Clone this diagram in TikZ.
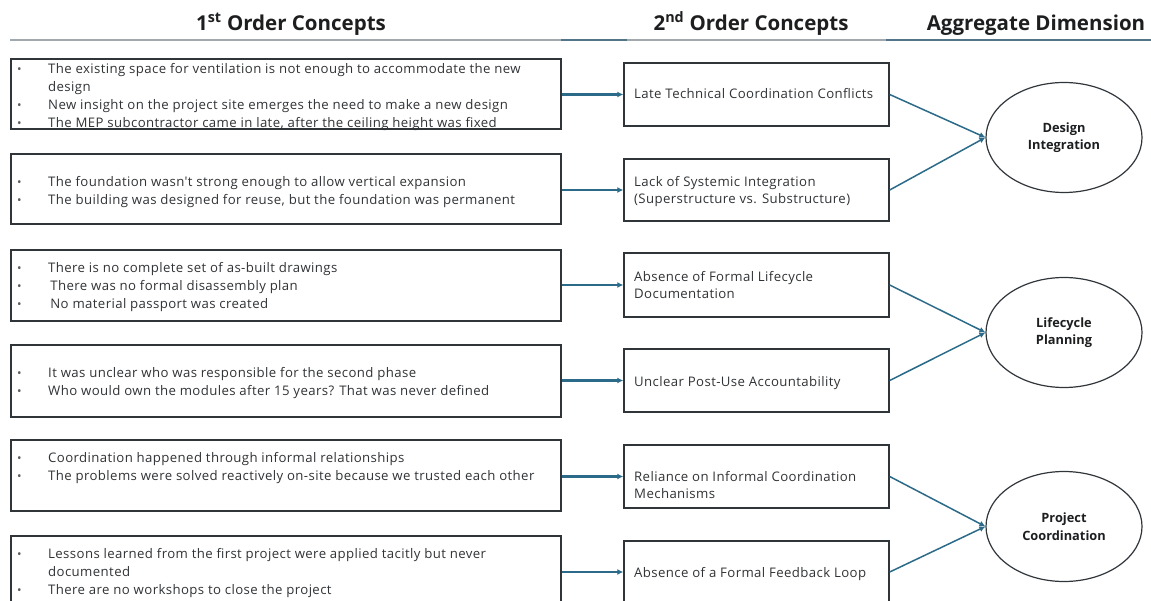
\documentclass[tikz,border=0pt]{standalone}
\usepackage{fontspec}
\setmainfont{Open Sans}
\newfontfamily\bodyfont[LetterSpace=3]{Open Sans}
\usetikzlibrary{arrows.meta,shapes.geometric}

\definecolor{ink}{HTML}{303336}
\definecolor{headink}{HTML}{1C1E20}
\definecolor{edgeink}{HTML}{30353A}
\definecolor{flow}{HTML}{2B6A88}
\definecolor{rulegrey}{HTML}{A2A9AE}
\definecolor{ruleblue}{HTML}{52758A}

% bullet list rows for the first-order boxes
\newcommand{\itemdot}{\textcolor{ink!80}{\fontsize{12}{12}\selectfont\textbullet}}
\newcommand{\itemrow}[1]{\itemdot & #1\\}
\newenvironment{quotelist}{\bodyfont\fontsize{13.2}{18}\selectfont\begin{tabular}[t]{@{}p{31pt}@{}p{520pt}@{}}}{\end{tabular}}

\tikzset{
  lbox/.style={draw=edgeink, line width=1.4pt, minimum width=550pt, inner sep=0pt},
  mbox/.style={draw=edgeink, line width=1.4pt, minimum width=265pt, inner sep=0pt},
  listtext/.style={anchor=base west, inner sep=0pt, text=ink},
  conctext/.style={anchor=base west, inner sep=0pt, text=ink, align=left,
    font=\bodyfont\fontsize{13.2}{17}\selectfont},
  aggr/.style={ellipse, draw=edgeink, line width=1.2pt, minimum width=156pt,
    minimum height=110pt, inner sep=0pt, align=center, text=headink,
    font=\bfseries\fontsize{12.8}{17.5}\selectfont},
  header/.style={anchor=base, inner sep=0pt, text=headink,
    font=\bfseries\fontsize{20.5}{24}\selectfont},
  feed/.style={draw=flow, line width=2.2pt, -{Latex[length=6pt,width=6pt]}},
  merge/.style={draw=flow, line width=1.5pt, -{Latex[length=6pt,width=6pt]}},
}

\begin{document}
\begin{tikzpicture}[x=1pt, y=-1pt]
\useasboundingbox (0,0) rectangle (1151,601);
\clip (0,0) rectangle (1151,601);

% column headers and the rule beneath them
\node[header] (h1) at (291,30.5) {1\textsuperscript{st} Order Concepts};
\node[header] (h2) at (751,30.5) {2\textsuperscript{nd} Order Concepts};
\node[header] (h3) at (1036,30.5) {Aggregate Dimension};
\draw[rulegrey, line width=2.4pt] (10,40) -- (561,40);
\draw[ruleblue, line width=2.4pt] (561,40) -- (627,40);
\draw[rulegrey, line width=2.4pt] (627,40) -- (886,40);
\draw[ruleblue, line width=2.4pt] (886,40) -- (1151,40);

% first-order concept boxes
\node[lbox, minimum height=70pt] (L1) at (286,94) {};
\node[lbox, minimum height=70pt] (L2) at (286,189) {};
\node[lbox, minimum height=71pt] (L3) at (286,285.5) {};
\node[lbox, minimum height=72pt] (L4) at (286,381) {};
\node[lbox, minimum height=71pt] (L5) at (286,475.5) {};
\node[lbox, minimum height=72pt] (L6) at (286,572) {};

\node[listtext] (t1) at (17,73.5) {\begin{quotelist}
\itemrow{The existing space for ventilation is not enough to accommodate the new\newline design}
\itemrow{New insight on the project site emerges the need to make a new design}
\itemrow{The MEP subcontractor came in late, after the ceiling height was fixed}
\end{quotelist}};
\node[listtext] (t2) at (17,186.5) {\begin{quotelist}
\itemrow{The foundation wasn't strong enough to allow vertical expansion}
\itemrow{The building was designed for reuse, but the foundation was permanent}
\end{quotelist}};
\node[listtext] (t3) at (17,272.5) {\begin{quotelist}
\itemrow{There is no complete set of as-built drawings}
\itemrow{\,There was no formal disassembly plan}
\itemrow{\,No material passport was created}
\end{quotelist}};
\node[listtext] (t4) at (17,377.5) {\begin{quotelist}
\itemrow{It was unclear who was responsible for the second phase}
\itemrow{Who would own the modules after 15 years? That was never defined}
\end{quotelist}};
\node[listtext] (t5) at (17,462.5) {\begin{quotelist}
\itemrow{Coordination happened through informal relationships}
\itemrow{The problems were solved reactively on-site because we trusted each other}
\end{quotelist}};
\node[listtext] (t6) at (17,558.5) {\begin{quotelist}
\itemrow{Lessons learned from the first project were applied tacitly but never\newline documented}
\itemrow{There are no workshops to close the project}
\end{quotelist}};

% second-order concept boxes
\node[mbox, minimum height=63pt] (M1) at (756.5,94.5) {};
\node[mbox, minimum height=62pt] (M2) at (756.5,190) {};
\node[mbox, minimum height=64pt] (M3) at (756.5,285) {};
\node[mbox, minimum height=63pt] (M4) at (756.5,380.5) {};
\node[mbox, minimum height=63pt] (M5) at (756.5,476.5) {};
\node[mbox, minimum height=62pt] (M6) at (756.5,572) {};

% text nodes are placed by the baseline of their last line
\node[conctext] (c1) at (634,99) {Late Technical Coordination Conflicts};
\node[conctext] (c2) at (634,203.5) {Lack of Systemic Integration\\(Superstructure vs. Substructure)};
\node[conctext] (c3) at (634,298.5) {Absence of Formal Lifecycle\\Documentation};
\node[conctext] (c4) at (634,386.5) {Unclear Post-Use Accountability};
\node[conctext] (c5) at (634,498.5) {Reliance on Informal Coordination\\Mechanisms};
\node[conctext] (c6) at (634,577.5) {Absence of a Formal Feedback Loop};

% aggregate dimensions
\node[aggr] (A1) at (1064,137.5) {Design\\Integration};
\node[aggr] (A2) at (1064,332.5) {Lifecycle\\Planning};
\node[aggr] (A3) at (1064,526.5) {Project\\Coordination};

% first-order to second-order links
\draw[feed] (L1.east |- M1.west) -- (M1.west);
\draw[feed] (L2.east |- M2.west) -- (M2.west);
\draw[feed] (L3.east |- M3.west) -- (M3.west);
\draw[feed] (L4.east |- M4.west) -- (M4.west);
\draw[feed] (L5.east |- M5.west) -- (M5.west);
\draw[feed] (L6.east |- M6.west) -- (M6.west);

% second-order to aggregate links
\draw[merge] (M1.east) -- (A1.west);
\draw[merge] (M2.east) -- (A1.west);
\draw[merge] (M3.east) -- (A2.west);
\draw[merge] (M4.east) -- (A2.west);
\draw[merge] (M5.east) -- (A3.west);
\draw[merge] (M6.east) -- (A3.west);
\end{tikzpicture}
\end{document}
